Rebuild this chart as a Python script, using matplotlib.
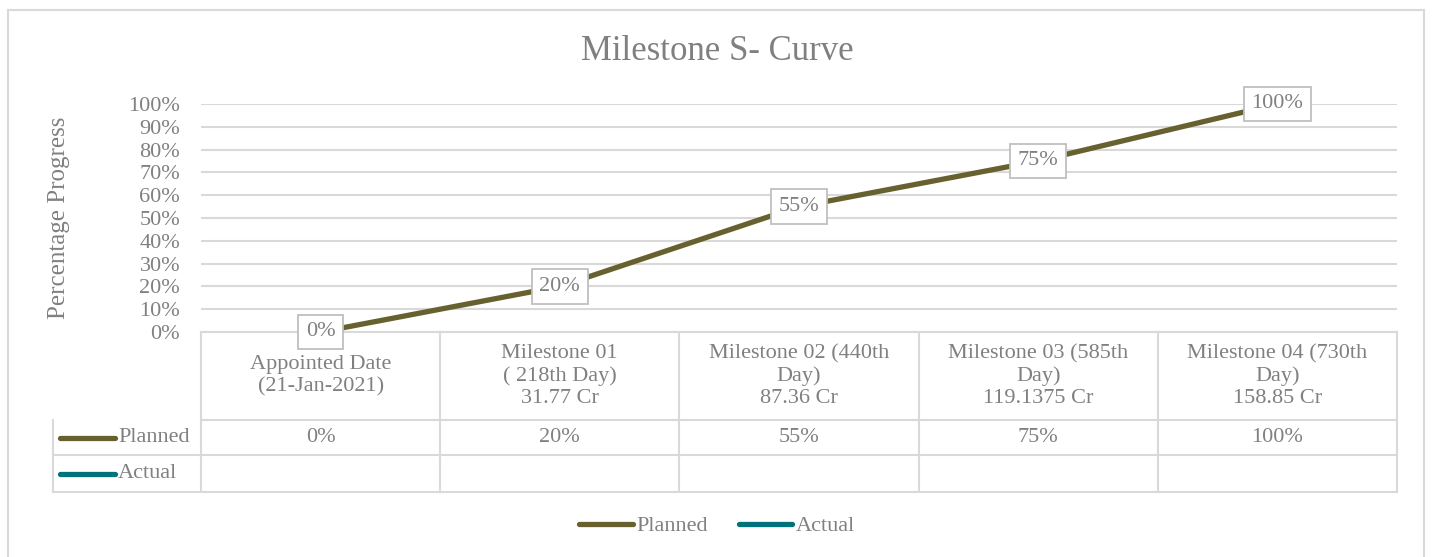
import matplotlib.pyplot as plt
from matplotlib.transforms import blended_transform_factory
from matplotlib.lines import Line2D
from matplotlib.patches import Rectangle
from matplotlib.ticker import PercentFormatter

# data
categories = [
    "Appointed Date\n(21-Jan-2021)",
    "Milestone 01\n( 218th Day)\n31.77 Cr",
    "Milestone 02 (440th\nDay)\n87.36 Cr",
    "Milestone 03 (585th\nDay)\n119.1375 Cr",
    "Milestone 04 (730th\nDay)\n158.85 Cr",
]
planned = [0, 20, 55, 75, 100]
actual = [None, None, None, None, None]
series_names = ["Planned", "Actual"]
series_colors = ["#676130", "#00727a"]

TXT = "#808080"
GRID = "#d9d9d9"
FS = 16
plt.rcParams['font.family'] = ['Liberation Serif', 'DejaVu Serif']

W, H = 1434, 557
fig = plt.figure(figsize=(W / 100, H / 100), dpi=100)

# chart border
fig.patches.append(Rectangle((8 / W, -0.1), (1424 - 8) / W, 1 - 10 / H + 0.1,
                             transform=fig.transFigure, fill=False,
                             edgecolor=GRID, lw=1.5))

x0, x1, ytop, ybot = 201, 1397, 104, 332
ax = fig.add_axes([x0 / W, 1 - ybot / H, (x1 - x0) / W, (ybot - ytop) / H])
n = len(categories)
xs = list(range(n))
ax.set_xlim(-0.5, n - 0.5)
ax.set_ylim(0, 100)
ax.set_yticks(range(0, 101, 10))
ax.yaxis.set_major_formatter(PercentFormatter(decimals=0))
ax.set_xticks([])
ax.tick_params(axis='y', length=0, pad=15, labelsize=FS, labelcolor=TXT)
for s in ax.spines.values():
    s.set_visible(False)
ax.grid(axis='y', color=GRID, lw=1.5)
ax.set_axisbelow(True)
ax.set_ylabel("Percentage Progress", fontsize=18, color=TXT)
ax.yaxis.set_label_coords((70 - x0) / (x1 - x0), 0.5)

ax.plot(xs, planned, color=series_colors[0], lw=3.8, solid_capstyle='round', zorder=3)
for x, v in zip(xs, planned):
    ax.text(x, v, f"{v}%", ha='center', va='center', fontsize=FS, color=TXT, zorder=4,
            bbox=dict(boxstyle='square,pad=0.35', fc='white', ec='#bfbfbf', lw=1.3))

fig.text(0.5, 1 - 51 / H, "Milestone S- Curve", ha='center', va='center',
         fontsize=25, color=TXT)

# data table below the axis
tr = blended_transform_factory(ax.transData, ax.transAxes)
px = 1.0 / (ybot - ytop)
rows_y = [0, -(420 - ybot) * px, -(455 - ybot) * px, -(492 - ybot) * px]
cw = (x1 - x0) / n
left_x = -0.5 - (x0 - 53) / cw
lk = dict(color=GRID, lw=1.5, transform=tr, clip_on=False)
for i in range(1, 4):
    ax.plot([left_x if i > 1 else -0.5, n - 0.5], [rows_y[i]] * 2, **lk)
ax.plot([-0.5, n - 0.5], [0, 0], **lk)
ax.plot([left_x, left_x], [rows_y[1], rows_y[3]], **lk)
for k in range(n + 1):
    ax.plot([k - 0.5] * 2, [0, rows_y[3]], **lk)

for x, c in zip(xs, categories):
    ax.text(x, (rows_y[0] + rows_y[1]) / 2, c, transform=tr, ha='center', va='center',
            fontsize=FS, color=TXT, linespacing=1.2)
for x, v in zip(xs, planned):
    ax.text(x, (rows_y[1] + rows_y[2]) / 2, f"{v}%", transform=tr, ha='center',
            va='center', fontsize=FS, color=TXT)

key_x0 = left_x + (60 - 53) / cw
key_x1 = left_x + (115 - 53) / cw
for j, (name, col) in enumerate(zip(series_names, series_colors)):
    yc = (rows_y[j + 1] + rows_y[j + 2]) / 2
    ax.plot([key_x0, key_x1], [yc, yc], color=col, lw=3.8, solid_capstyle='round',
            transform=tr, clip_on=False)
    ax.text(key_x1 + 3 / cw, yc, name, transform=tr, ha='left', va='center',
            fontsize=FS, color=TXT)

handles = [Line2D([], [], color=c, lw=3.8, solid_capstyle='round') for c in series_colors]
fig.legend(handles, series_names, loc='center', bbox_to_anchor=(0.5, 1 - 526 / H),
           ncol=2, frameon=False, fontsize=FS, labelcolor=TXT, handlelength=2.4,
           handletextpad=0.15, columnspacing=1.4)

fig.savefig("out.png", dpi=100)
